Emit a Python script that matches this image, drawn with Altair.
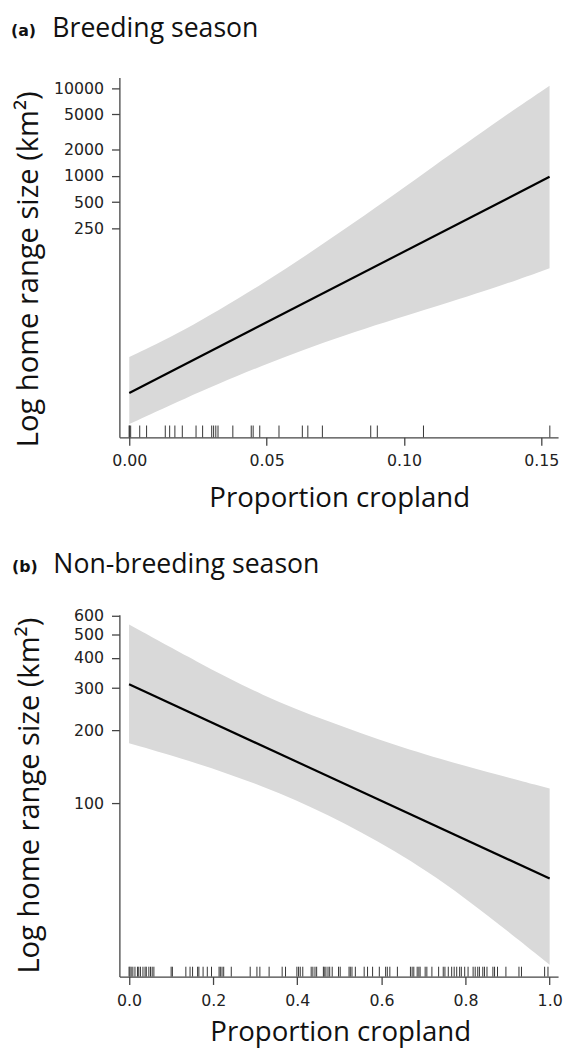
import altair as alt
import pandas as pd

# ---------------- Panel (a): breeding season ----------------
a_fit_x = [0.0, 0.153]
a_fit_y = [3.35, 974]
a_band_x = [0.0, 0.0185, 0.0485, 0.0784, 0.1083, 0.1322, 0.153]
a_band_hi = [8.6, 16.1, 57.6, 243, 1129, 3870, 10600]
a_band_lo = [1.48, 2.76, 7.0, 15.4, 30.2, 51.4, 88.5]
a_rug = [0.0, 0.0, 0.0005, 0.0038, 0.0063, 0.0131, 0.0147, 0.0166, 0.0193,
         0.0243, 0.0267, 0.0300, 0.0307, 0.0315, 0.0323, 0.0377, 0.0444,
         0.0451, 0.0475, 0.0545, 0.0630, 0.0650, 0.0703, 0.0879, 0.0903,
         0.1071, 0.1531]
a_xticks = [0.0, 0.05, 0.10, 0.15]
a_yticks = [250, 500, 1000, 2000, 5000, 10000]
a_xdomain = [-0.0036, 0.1561]
a_ydomain = [1.045, 13190]

# ---------------- Panel (b): non-breeding season ----------------
b_fit_x = [0.0, 1.0]
b_fit_y = [311, 48.7]
b_band_x = [0.0, 0.162, 0.318, 0.474, 0.630, 0.787, 1.0]
b_band_hi = [550, 385, 278, 218, 174, 144, 115]
b_band_lo = [177, 147, 118, 90, 64, 42.5, 21.4]
b_rug = [0.000, 0.002, 0.005, 0.009, 0.014, 0.020, 0.023, 0.027, 0.033, 0.038,
         0.041, 0.047, 0.051, 0.055, 0.059, 0.100, 0.103, 0.135, 0.145, 0.151,
         0.163, 0.166, 0.176, 0.186, 0.196, 0.214, 0.217, 0.221, 0.225, 0.243,
         0.288, 0.304, 0.311, 0.333, 0.364, 0.372, 0.399, 0.403, 0.407, 0.413,
         0.433, 0.437, 0.442, 0.446, 0.462, 0.464, 0.468, 0.473, 0.477, 0.483,
         0.498, 0.502, 0.523, 0.526, 0.530, 0.538, 0.559, 0.567, 0.579, 0.595,
         0.610, 0.614, 0.620, 0.638, 0.669, 0.673, 0.677, 0.685, 0.689, 0.692,
         0.704, 0.708, 0.720, 0.736, 0.747, 0.751, 0.759, 0.767, 0.773, 0.779,
         0.786, 0.790, 0.798, 0.806, 0.818, 0.823, 0.829, 0.833, 0.841, 0.845,
         0.851, 0.865, 0.869, 0.876, 0.896, 0.927, 0.933, 0.988, 0.996]
b_xticks = [0.0, 0.2, 0.4, 0.6, 0.8, 1.0]
b_yticks = [100, 200, 300, 400, 500, 600]
b_xdomain = [-0.023, 1.02]
b_ydomain = [19.1, 604]

X_TITLE = "Proportion cropland"
Y_TITLE = "Log home range size (km²)"

LABEL_FONT = "DejaVu Sans"
LABEL_SIZE = 16


def panel(tag, name, fx, fy, bx, bhi, blo, rug, xdom, ydom, xt, yt, xfmt,
          W, H, rug_len, xtx, xty, ytx, yty, tag_x, tag_y, name_x, name_y):
    fit = pd.DataFrame({"x": fx, "y": fy})
    band = pd.DataFrame({"x": bx, "y": bhi, "y2": blo})
    rugdf = pd.DataFrame({"x": rug})

    xscale = alt.Scale(domain=xdom, nice=False, zero=False)
    yscale = alt.Scale(type="log", domain=ydom, nice=False)
    common = dict(grid=False, tickSize=8, labelPadding=8,
                  labelFont=LABEL_FONT, labelFontSize=LABEL_SIZE,
                  labelColor="#222222", domainColor="#444444",
                  tickColor="#444444", domainWidth=1.3, tickWidth=1.3,
                  titleFont="Open Sans",
                  titleFontWeight="normal", titleColor="#111111",
                  titleAlign="center", titleBaseline="middle",
                  labelFlush=False, labelOverlap=False)
    xaxis = alt.Axis(values=xt, format=xfmt, title=X_TITLE, titleFontSize=28,
                     titleX=xtx, titleY=xty, **common)
    yaxis = alt.Axis(values=yt, format="d", title=Y_TITLE, titleFontSize=29.5,
                     titleX=ytx, titleY=yty, titleAngle=270, **common)

    area = alt.Chart(band).mark_area(color="#d9d9d9", interpolate="basis").encode(
        x=alt.X("x:Q", scale=xscale, axis=xaxis),
        y=alt.Y("y:Q", scale=yscale, axis=yaxis),
        y2="y2:Q",
    )
    line = alt.Chart(fit).mark_line(color="black", strokeWidth=2.2).encode(
        x=alt.X("x:Q", scale=xscale, axis=xaxis),
        y=alt.Y("y:Q", scale=yscale, axis=yaxis),
    )
    rugs = alt.Chart(rugdf).mark_rule(color="#333333", strokeWidth=1).encode(
        x=alt.X("x:Q", scale=xscale, axis=xaxis),
        y=alt.value(H - rug_len),
        y2=alt.value(H),
    )
    tag_t = alt.Chart(pd.DataFrame({"t": [tag]})).mark_text(
        align="left", baseline="alphabetic", font="DejaVu Sans",
        fontWeight="bold", fontSize=16, color="#111111",
    ).encode(text="t:N", x=alt.value(tag_x), y=alt.value(tag_y))
    name_t = alt.Chart(pd.DataFrame({"t": [name]})).mark_text(
        align="left", baseline="alphabetic", font="Open Sans",
        fontSize=27, color="#111111",
    ).encode(text="t:N", x=alt.value(name_x), y=alt.value(name_y))

    return alt.layer(area, line, rugs, tag_t, name_t).properties(width=W, height=H)


pa = panel("(a)", "Breeding season", a_fit_x, a_fit_y, a_band_x, a_band_hi,
           a_band_lo, a_rug, a_xdomain, a_ydomain, a_xticks, a_yticks, ".2f",
           445, 365, 12, 223, 62, -92, 194, -110, -42, -68, -41)
pb = panel("(b)", "Non-breeding season", b_fit_x, b_fit_y, b_band_x, b_band_hi,
           b_band_lo, b_rug, b_xdomain, b_ydomain, b_xticks, b_yticks, ".1f",
           445, 367, 10, 224, 57, -91, 183, -109, -43, -67, -42)

chart = alt.vconcat(pa, pb, spacing=40).properties(
    padding={"left": 3, "top": 0, "right": 0, "bottom": 0}
).configure_view(stroke=None).configure_axis(
    labelFont=LABEL_FONT, labelFontSize=LABEL_SIZE
)

chart.save("out.html", embed_options={"renderer": "svg", "actions": False})
